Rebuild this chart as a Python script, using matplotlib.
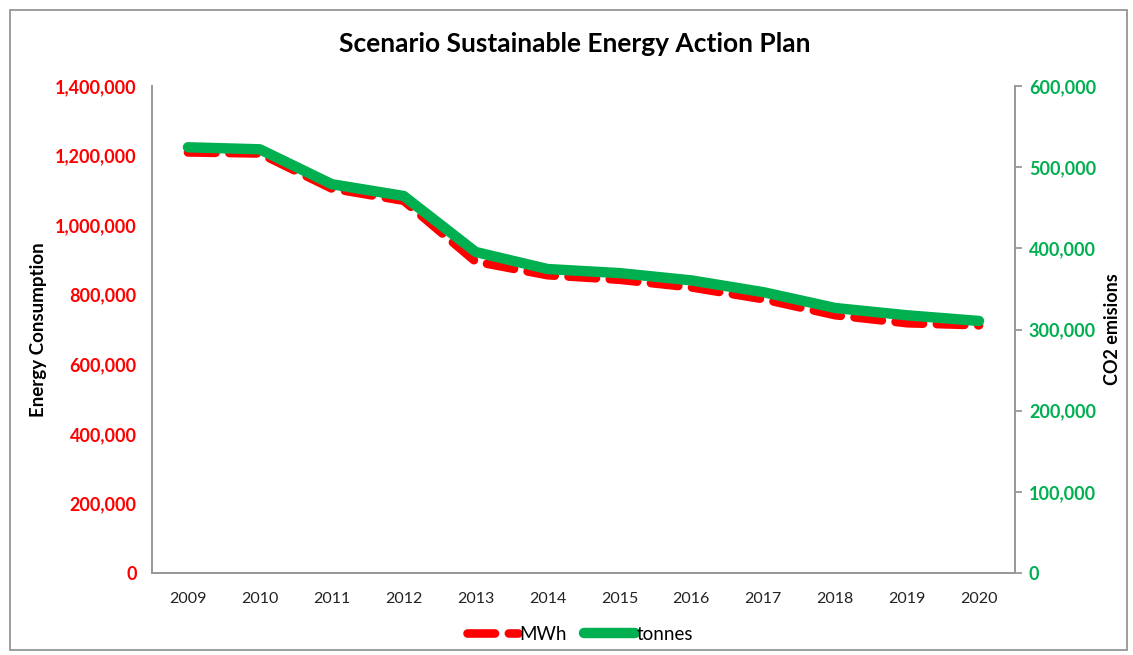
import matplotlib
matplotlib.use("Agg")
import matplotlib.pyplot as plt
from matplotlib.ticker import FuncFormatter, MultipleLocator
from matplotlib.patches import Rectangle

years = ["2009", "2010", "2011", "2012", "2013", "2014", "2015", "2016", "2017", "2018", "2019", "2020"]
mwh = [1209000, 1206000, 1105000, 1070000, 895000, 856000, 843000, 821000, 787000, 741000, 718000, 712000]
tonnes = [524500, 522000, 479000, 464500, 395500, 374500, 369500, 360500, 346000, 326500, 317500, 310500]

plt.rcParams['font.family'] = ['Lato', 'DejaVu Sans']

fig = plt.figure(figsize=(11.33, 6.55), dpi=100)
fig.patches.append(Rectangle((10/1133, 5/655), 1117/1133, 640/655, transform=fig.transFigure,
                             fill=False, edgecolor='#8c8c8c', linewidth=1.2))

ax = fig.add_axes([152/1133, 1-573/655, (1015-152)/1133, (573-86)/655])
ax2 = ax.twinx()

x = list(range(len(years)))
red = '#ff0000'
green = '#00b050'

l1, = ax.plot(x, mwh, color=red, linewidth=6.2, linestyle=(0, (3.2, 1.6)),
              dash_capstyle='round', solid_capstyle='round', label='MWh')
l2, = ax2.plot(x, tonnes, color=green, linewidth=7.5, solid_capstyle='round', label='tonnes')

ax.set_xlim(-0.5, len(years) - 0.5)
ax.set_ylim(0, 1400000)
ax2.set_ylim(0, 600000)
ax.yaxis.set_major_locator(MultipleLocator(200000))
ax2.yaxis.set_major_locator(MultipleLocator(100000))
fmt = FuncFormatter(lambda v, p: f"{int(v):,}")
ax.yaxis.set_major_formatter(fmt)
ax2.yaxis.set_major_formatter(fmt)
ax.set_xticks(x)
ax.set_xticklabels(years)

for a in (ax, ax2):
    a.spines['top'].set_visible(False)
    for s in ('left', 'right', 'bottom'):
        a.spines[s].set_color('#999999')
        a.spines[s].set_linewidth(1.3)

ax.tick_params(axis='y', length=0, pad=11, labelsize=13, labelcolor=red)
for t in ax.get_yticklabels():
    t.set_fontweight('bold')
ax.tick_params(axis='x', length=0, pad=14, labelsize=11.5, labelcolor='#222222')
ax2.tick_params(axis='y', length=5, width=1.3, color='#999999', direction='out', pad=5,
                labelsize=13, labelcolor=green)
for t in ax2.get_yticklabels():
    t.set_fontweight('bold')

ax.set_ylabel('Energy Consumption', fontsize=13.5, fontweight='bold', labelpad=6)
ax2.set_ylabel('CO2 emisions', fontsize=13, fontweight='bold', labelpad=6)

fig.text(575/1133, 1-44/655, 'Scenario Sustainable Energy Action Plan', ha='center', va='center',
         fontsize=19, fontweight='bold')

fig.legend(handles=[l1, l2], labels=['MWh', 'tonnes'], loc='center', bbox_to_anchor=(580/1133, 1-634/655),
           ncol=2, frameon=False, fontsize=13.5, handlelength=2.7, columnspacing=0.9, handletextpad=0.1)

fig.savefig('out.png', dpi=100)
